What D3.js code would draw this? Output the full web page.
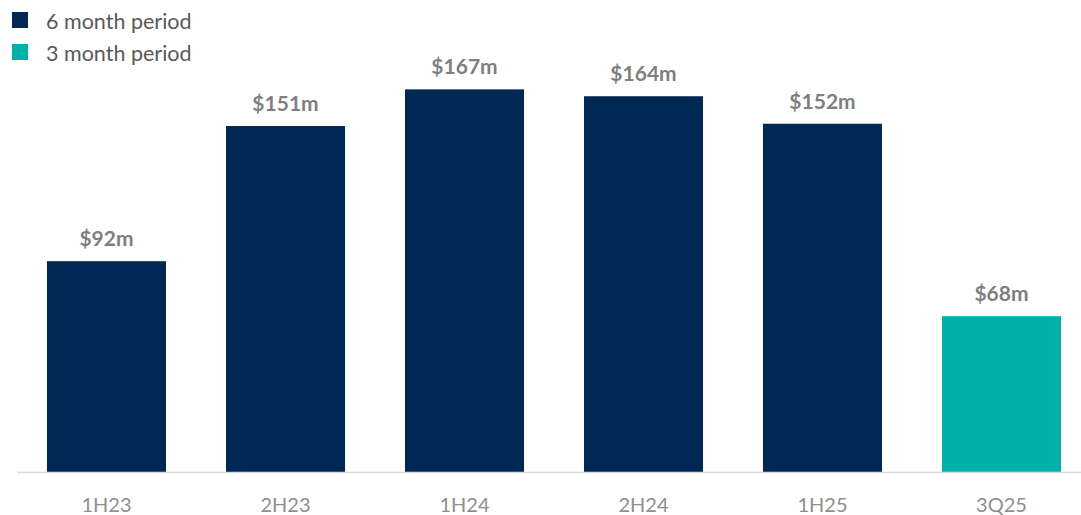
<!DOCTYPE html>
<html><head><meta charset="utf-8">
<script src="https://cdn.jsdelivr.net/npm/d3@7/dist/d3.min.js"></script>
<style>body{margin:0;background:#fff;overflow:hidden}svg{display:block}</style>
</head><body>
<svg id="c" width="1081" height="515"></svg>
<script>
const categories = ["1H23","2H23","1H24","2H24","1H25","3Q25"];
const values = [92,151,167,164,152,68];
const periods = ["6 month period","6 month period","6 month period","6 month period","6 month period","3 month period"];
const legendLabels = ["6 month period","3 month period"];
const colors = {"6 month period":"#002855","3 month period":"#00B1A9"};
const FONT = "Lato, 'Open Sans', sans-serif";

const svg = d3.select("#c");
const x = d3.scaleBand().domain(categories).range([17,1091]).paddingInner(0.335).paddingOuter(0.1675);
const y = d3.scaleLinear().domain([0,206]).range([472,0]);

svg.selectAll("rect.bar").data(categories).join("rect").attr("class","bar")
  .attr("x",d=>x(d)).attr("width",x.bandwidth())
  .attr("y",(d,i)=>y(values[i])).attr("height",(d,i)=>y(0)-y(values[i]))
  .attr("fill",(d,i)=>colors[periods[i]]);

svg.append("line").attr("x1",17).attr("x2",1081).attr("y1",y(0)+0.5).attr("y2",y(0)+0.5)
  .attr("stroke","#d9d9d9").attr("stroke-width",1.5);

svg.selectAll("text.val").data(categories).join("text").attr("class","val")
  .attr("x",d=>x(d)+x.bandwidth()/2).attr("y",(d,i)=>y(values[i])-15)
  .attr("text-anchor","middle").attr("font-family",FONT).attr("font-weight","bold")
  .attr("font-size",21).attr("fill","#7f7f7f").text((d,i)=>"$"+values[i]+"m");

const ax = svg.append("g").attr("transform",`translate(0,${y(0)})`)
  .call(d3.axisBottom(x).tickSize(0).tickPadding(26));
ax.select(".domain").remove();
ax.selectAll("text").attr("font-family",FONT).attr("font-size",20).attr("fill","#8f8f8f");

const lg = svg.append("g");
legendLabels.forEach((l,i)=>{
  lg.append("rect").attr("x",12).attr("y",12+i*32).attr("width",16).attr("height",16).attr("fill",colors[l]);
  lg.append("text").attr("x",46).attr("y",29+i*32).attr("font-family",FONT).attr("font-size",21.5)
    .attr("fill","#595959").text(l);
});
</script>
</body></html>
